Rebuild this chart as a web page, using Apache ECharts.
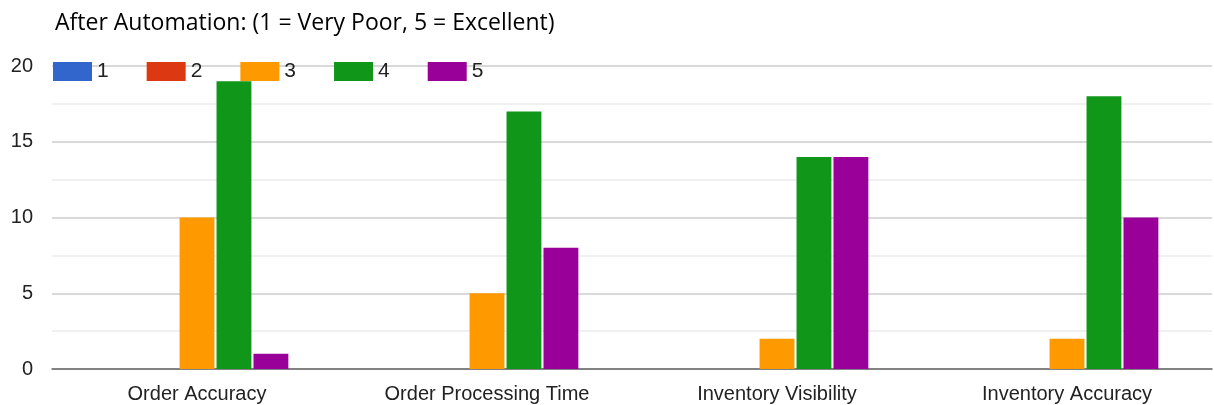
<!DOCTYPE html>
<html>
<head>
<meta charset="utf-8">
<script src="https://cdn.jsdelivr.net/npm/echarts@6/dist/echarts.min.js"></script>
<style>
html, body { margin: 0; padding: 0; background: #fff; }
#chart { width: 1214px; height: 405px; }
</style>
</head>
<body>
<div id="chart"></div>
<script>
const categories = ['Order Accuracy', 'Order Processing Time', 'Inventory Visibility', 'Inventory Accuracy'];
const seriesNames = ['1', '2', '3', '4', '5'];
const colors = ['#3366cc', '#dc3912', '#ff9900', '#109618', '#990099'];
const rating1 = [0, 0, 0, 0];
const rating2 = [0, 0, 0, 0];
const rating3 = [10, 5, 2, 2];
const rating4 = [19, 17, 14, 18];
const rating5 = [1, 8, 14, 10];
const yTicks = [0, 5, 10, 15, 20];

const values = [rating1, rating2, rating3, rating4, rating5];

let myChart = echarts.init(document.getElementById('chart'));

let option = {
    animation: false,
    title: {
        text: 'After Automation: (1 = Very Poor, 5 = Excellent)',
        left: 50,
        top: 7,
        textStyle: {
            fontFamily: 'Open Sans',
            fontSize: 23,
            fontWeight: 'normal',
            color: '#000'
        }
    },
    legend: {
        left: 48,
        top: 56,
        itemWidth: 39,
        itemHeight: 19,
        itemGap: 38,
        icon: 'rect',
        textStyle: {
            fontFamily: 'Liberation Sans',
            fontSize: 21,
            color: '#222'
        },
        data: seriesNames
    },
    grid: {
        left: 52,
        right: 2,
        top: 66,
        bottom: 36
    },
    xAxis: {
        type: 'category',
        data: categories,
        axisTick: { show: false },
        axisLine: { lineStyle: { color: '#666', width: 1.5 } },
        axisLabel: {
            fontFamily: 'Liberation Sans',
            fontSize: 20,
            color: '#222',
            margin: 15
        }
    },
    yAxis: {
        type: 'value',
        min: 0,
        max: 20,
        interval: 5,
        axisLabel: {
            fontFamily: 'Liberation Sans',
            fontSize: 20,
            color: '#222',
            margin: 19,
            formatter: function (v) {
                return yTicks.indexOf(v) >= 0 ? String(v) : '';
            }
        },
        splitLine: { lineStyle: { color: '#cccccc', width: 1.5 } },
        minorTick: { show: false, splitNumber: 2 },
        minorSplitLine: { show: true, lineStyle: { color: '#ebebeb', width: 1.5 } }
    },
    series: seriesNames.map(function (name, i) {
        return {
            name: name,
            type: 'bar',
            data: values[i],
            barGap: '6%',
            barCategoryGap: '37%',
            itemStyle: {
                color: colors[i]
            }
        };
    })
};
myChart.setOption(option);

window.addEventListener('resize', () => {
    myChart.resize()
})
</script>
</body>
</html>
